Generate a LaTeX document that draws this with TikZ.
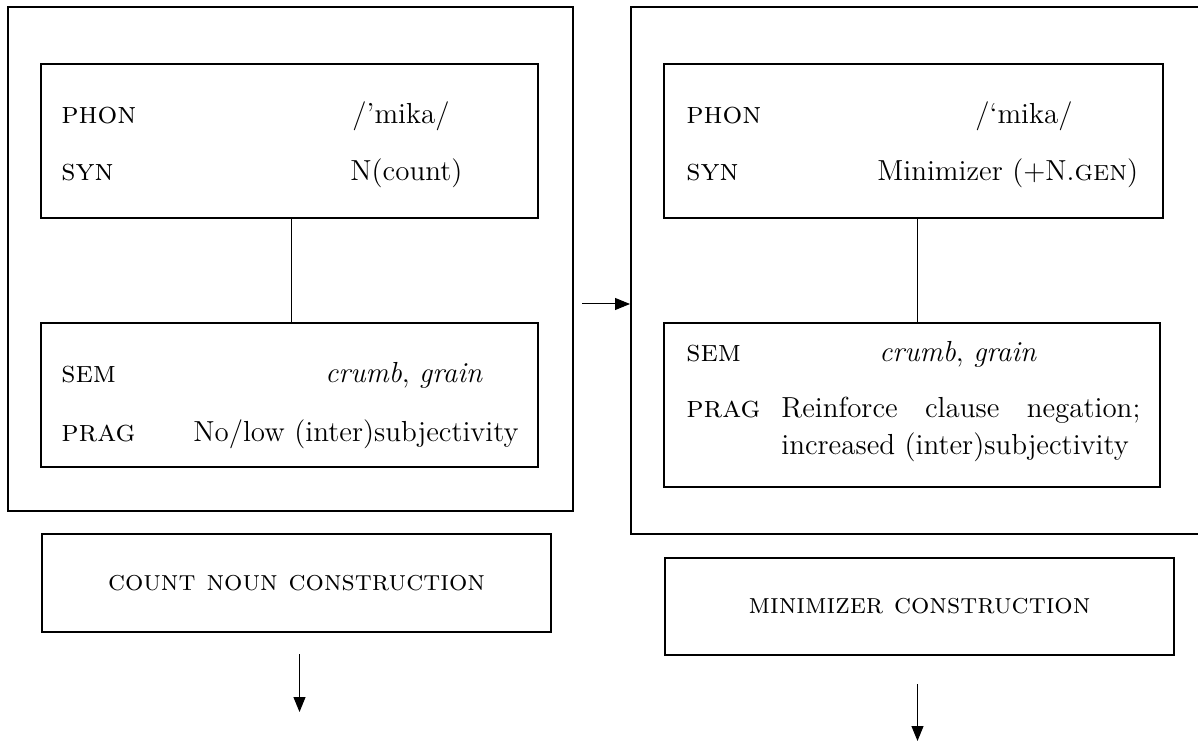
\documentclass[tikz,border=0pt]{standalone}
\usepackage{fontspec}
\usetikzlibrary{arrows.meta}
\tikzset{
  outerbox/.style={draw, line width=1pt, inner sep=0pt},
  innerbox/.style={draw, line width=0.75pt, inner sep=0pt},
  namebox/.style={draw, line width=0.75pt, inner sep=0pt,
    font=\fontsize{14.4}{17}\selectfont\scshape},
  feat/.style={anchor=base west, inner sep=0pt,
    font=\fontsize{15.5}{18}\selectfont\scshape},
  val/.style={anchor=base west, inner sep=0pt,
    font=\fontsize{14.5}{17}\selectfont},
  link/.style={line width=0.5pt},
  arr/.style={line width=0.5pt, -{Triangle[length=7.5pt,width=6pt]}},
}
\begin{document}
\begin{tikzpicture}[x=0.5pt,y=-0.5pt]
\useasboundingbox (0,0) rectangle (1198,742);

% count noun construction
\node[outerbox, minimum width=282.5pt, minimum height=252pt] (louter) at (290.5,259) {};
\node[innerbox, minimum width=248.5pt, minimum height=77pt] (ltop) at (289.5,141) {};
\node[innerbox, minimum width=248.5pt, minimum height=72pt] (lbot) at (289.5,395) {};
\draw[link] ([xshift=0.75pt]ltop.south) -- ([xshift=0.75pt]lbot.north);

\node[feat] (lphon) at (61,124) {phon};
\node[feat] (lsyn)  at (61,181) {syn};
\node[val]  (lphonv) at (352,124) {/'mika/};
\node[val]  (lsynv)  at (350,181) {N(count)};
\node[feat] (lsem)  at (61,383) {sem};
\node[feat] (lprag) at (61,442) {prag};
\node[val]  (lsemv)  at (325,383) {\textit{crumb}, \textit{grain}};
\node[val]  (lpragv) at (193,442) {No/low (inter)subjectivity};

% minimizer construction
\node[outerbox, minimum width=289.5pt, minimum height=263.5pt] (router) at (920.5,270.5) {};
\node[innerbox, minimum width=249.5pt, minimum height=77pt] (rtop) at (913.5,141) {};
\node[innerbox, minimum width=248pt, minimum height=82pt] (rbot) at (912,405) {};
\draw[link] ([xshift=2pt]rtop.south) -- ([xshift=2pt]rtop.south |- rbot.north);

\node[feat] (rphon) at (686,124) {phon};
\node[feat] (rsyn)  at (686,181) {syn};
\node[val]  (rphonv) at (975,124) {/`mika/};
\node[val]  (rsynv)  at (877,181) {Minimizer (+N.\textsc{gen})};
\node[feat] (rsem)  at (686,362) {sem};
\node[feat] (rprag) at (686,418) {prag};
\node[val]  (rsemv)  at (879,362) {\textit{crumb}, \textit{grain}};
\node[val]  (rpragv) at (781,418) {\makebox[179.5pt][s]{Reinforce clause negation;}};
\node[val]  (rpragw) at (781,455) {increased (inter)subjectivity};

% construction names
\node[namebox, minimum width=254.5pt, minimum height=49pt] (cnt) at (296.5,583) {count noun construction};
\node[namebox, minimum width=254.5pt, minimum height=48.5pt] (mini) at (919.5,606.5) {minimizer construction};

% arrows
\coordinate (hstart) at (582,304);
\draw[arr] (hstart) -- (hstart -| router.west);

\coordinate (ldown) at (299.5,654);
\coordinate (lend)  at (299.5,712);
\draw[arr] (ldown) -- (lend);

\coordinate (rdown) at (917.5,684);
\coordinate (rend)  at (917.5,741);
\draw[arr] (rdown) -- (rend);
\end{tikzpicture}
\end{document}
